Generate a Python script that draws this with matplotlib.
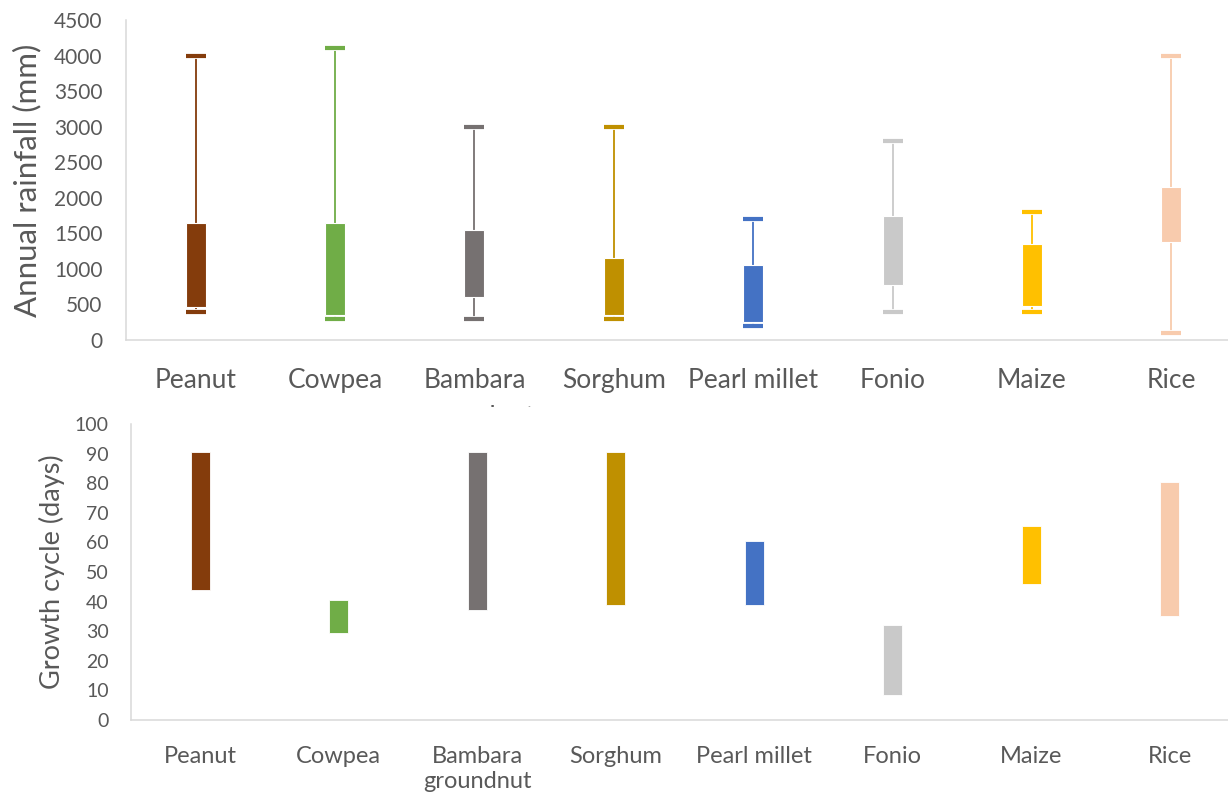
import matplotlib
matplotlib.use("Agg")
import matplotlib.pyplot as plt
import matplotlib.patheffects as pe
from matplotlib.patches import Rectangle

# Crops shown in both panels
crops = ["Peanut", "Cowpea", "Bambara\ngroundnut", "Sorghum",
         "Pearl millet", "Fonio", "Maize", "Rice"]
crop_colors = ["#843C0C", "#70AD47", "#767171", "#BF9000",
               "#4472C4", "#C9C9C9", "#FFC000", "#F8CBAD"]

# Annual rainfall (mm): whisker ends and box edges
rain_min = [400, 300, 300, 300, 200, 400, 400, 100]
rain_low = [470, 350, 600, 350, 250, 770, 475, 1375]
rain_high = [1650, 1640, 1550, 1150, 1050, 1750, 1350, 2150]
rain_max = [4000, 4100, 3000, 3000, 1700, 2800, 1800, 4000]
rain_ticks = list(range(0, 4501, 500))

# Growth cycle (days): shortest and longest
cycle_min = [44, 29.5, 37, 39, 39, 8.5, 46, 35]
cycle_max = [90.5, 40.5, 90.5, 90.5, 60.5, 32, 65.5, 80.5]
cycle_ticks = list(range(0, 101, 10))

TEXT = "#595959"
AXIS = "#D9D9D9"
plt.rcParams["font.family"] = ["Lato", "DejaVu Sans"]

W, H = 1228, 802
fig = plt.figure(figsize=(W / 100, H / 100), dpi=100)

x = list(range(len(crops)))


def style_axes(ax, ymax, ticks, tick_size, pad_y, pad_x, cat_size):
    ax.set_xlim(-0.5, 7.5)
    ax.set_ylim(0, ymax)
    ax.set_yticks(ticks)
    ax.set_xticks(x)
    for s in ("top", "right"):
        ax.spines[s].set_visible(False)
    for s in ("left", "bottom"):
        ax.spines[s].set_color(AXIS)
        ax.spines[s].set_linewidth(1.1)
    ax.tick_params(axis="y", length=0, pad=pad_y, labelsize=tick_size,
                   labelcolor=TEXT)
    ax.tick_params(axis="x", length=0, pad=pad_x, labelsize=cat_size,
                   labelcolor=TEXT)
    ax.set_facecolor("none")


# ---- Annual rainfall panel ----
ax1 = fig.add_axes([126 / W, (H - 340) / H, 1115 / W, 320 / H])
box_w = 0.1435
ax1.vlines(x, rain_min, rain_max, colors=crop_colors, linewidth=1.3, zorder=2)
ax1.bar(x, [h - l for l, h in zip(rain_low, rain_high)], bottom=rain_low,
        width=box_w, color=crop_colors, edgecolor="white", linewidth=0.8,
        zorder=3)
cap_fx = [pe.Stroke(linewidth=4.2, foreground="white"), pe.Normal()]
for xi, lo, hi, c in zip(x, rain_min, rain_max, crop_colors):
    for v in (lo, hi):
        ax1.hlines(v, xi - box_w / 2, xi + box_w / 2, colors=c,
                   linewidth=3.0, zorder=4, path_effects=cap_fx,
                   capstyle="butt")
style_axes(ax1, 4500, rain_ticks, 15, 17, 20, 19)
ax1.set_xticklabels(crops, linespacing=1.62)
ax1.set_ylabel("Annual rainfall (mm)", fontsize=22.5, color=TEXT,
               ha="center", va="center")
ax1.yaxis.set_label_coords(-0.0888, 0.5)
ax1.set_zorder(0)

# white band below the rainfall panel
fig.add_artist(Rectangle((0, 0), 1, (H - 407) / H, transform=fig.transFigure,
                         facecolor="white", edgecolor="none", zorder=1))

# ---- Growth cycle panel ----
ax2 = fig.add_axes([131 / W, (H - 720) / H, 1108 / W, 296 / H])
ax2.bar(x, [h - l for l, h in zip(cycle_min, cycle_max)], bottom=cycle_min,
        width=0.137, color=crop_colors, edgecolor="white", linewidth=0.6,
        zorder=3)
style_axes(ax2, 100, cycle_ticks, 14, 16, 19, 17)
ax2.set_xticklabels(crops, linespacing=1.2)
ax2.set_ylabel("Growth cycle (days)", fontsize=19.5, color=TEXT,
               ha="center", va="center")
ax2.yaxis.set_label_coords(-0.0713, 0.5)
ax2.set_zorder(2)

fig.savefig("out.png", dpi=100, facecolor="white")
